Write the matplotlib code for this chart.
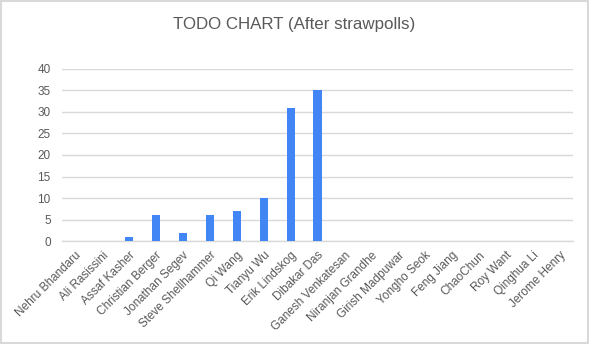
import matplotlib.pyplot as plt
import numpy as np

plt.rcParams['font.family'] = ['Liberation Sans', 'DejaVu Sans']

# DATA
names = ['Nehru Bhandaru', 'Ali Rasissini', 'Assaf Kasher', 'Christian Berger',
         'Jonathan Segev', 'Steve Shellhammer', 'Qi Wang', 'Tianyu Wu',
         'Erik Lindskog', 'Dibakar Das', 'Ganesh Venkatesan', 'Niranjan Grandhe',
         'Girish Madpuwar', 'Yongho Seok', 'Feng Jiang', 'ChaoChun', 'Roy Want',
         'Qinghua Li', 'Jerome Henry']
todo_counts = [0, 0, 1, 6, 2, 6, 7, 10, 31, 35, 0, 0, 0, 0, 0, 0, 0, 0, 0]
y_ticks = [0, 5, 10, 15, 20, 25, 30, 35, 40]

text_col = '#595959'
grid_col = '#D9D9D9'
bar_col = '#4285F4'

fig = plt.figure(figsize=(5.89, 3.44), dpi=100)
ax = fig.add_axes([0.105, 0.299, 0.868, 0.501])

x = np.arange(len(names))
ax.bar(x, todo_counts, width=0.3, color=bar_col, zorder=3)

ax.set_xlim(-0.5, len(names) - 0.5)
ax.set_ylim(0, 40)
ax.set_yticks(y_ticks)
ax.yaxis.grid(True, color=grid_col, linewidth=1, zorder=0)

ax.set_xticks(x)
ax.set_xticklabels(names, rotation=45, ha='right', rotation_mode='anchor')
ax.tick_params(axis='both', length=0, colors=text_col, labelsize=8.5)
ax.tick_params(axis='x', pad=6)
ax.tick_params(axis='y', pad=8)

for side in ['top', 'right', 'left']:
    ax.spines[side].set_visible(False)
ax.spines['bottom'].set_color(grid_col)
ax.spines['bottom'].set_linewidth(1)

fig.text(0.5, 0.93, 'TODO CHART (After strawpolls)', ha='center', va='center',
         fontsize=12.2, color=text_col)

# light border round the chart
fig.patches.append(plt.Rectangle((0.001, 0.002), 0.997, 0.995, transform=fig.transFigure,
                                 fill=False, edgecolor='#D9D9D9', linewidth=1.5))

plt.savefig('out.png', dpi=100)
